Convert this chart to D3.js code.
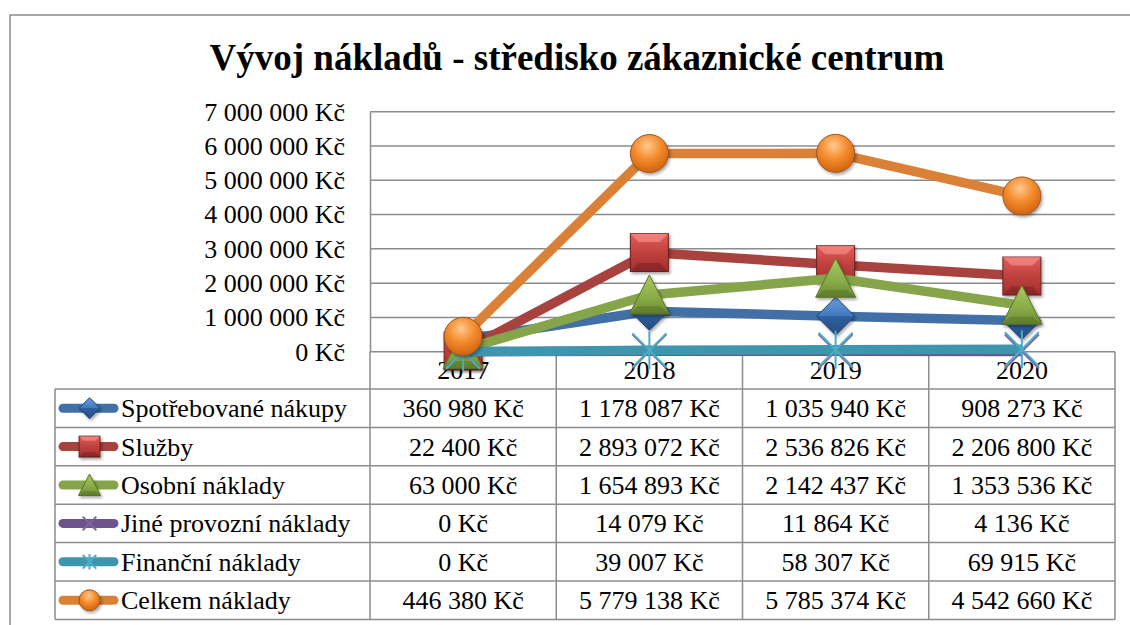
<!DOCTYPE html>
<html>
<head>
<meta charset="utf-8">
<script src="https://d3js.org/d3.v7.min.js"></script>
</head>
<body style="margin:0">
<script>
var width = 1130, height = 625;
var serif = "'Liberation Serif'";

// data
var categories = ["2017", "2018", "2019", "2020"];
var seriesNames = ["Spotřebované nákupy", "Služby", "Osobní náklady",
                   "Jiné provozní náklady", "Finanční náklady", "Celkem náklady"];
var spotrebovane = [360980, 1178087, 1035940, 908273];
var sluzby = [22400, 2893072, 2536826, 2206800];
var osobni = [63000, 1654893, 2142437, 1353536];
var jine = [0, 14079, 11864, 4136];
var financni = [0, 39007, 58307, 69915];
var celkem = [446380, 5779138, 5785374, 4542660];
var yTicks = [0, 1000000, 2000000, 3000000, 4000000, 5000000, 6000000, 7000000];

var seriesValues = [spotrebovane, sluzby, osobni, jine, financni, celkem];
var lineColors = ["#416FA6", "#A8423F", "#86A44A", "#6E548D", "#3D96AE", "#DA8137"];
var markerTypes = ["diamond", "square", "triangle", "x", "star", "circle"];

// Czech number format: space as thousands separator
var fmt = function(v) { return d3.format(",")(v).replace(/,/g, " ") + " Kč"; };

var svg = d3.select("body").append("svg").attr("width", width).attr("height", height)
    .style("font-family", serif);

// gradients + shadow
var defs = svg.append("defs");
function linGrad(id, stops) {
    var g = defs.append("linearGradient").attr("id", id)
        .attr("x1", 0).attr("y1", 0).attr("x2", 0).attr("y2", 1);
    stops.forEach(function(s) { g.append("stop").attr("offset", s[0]).attr("stop-color", s[1]); });
}
linGrad("gBlue", [[0, "#6A9EDF"], [0.5, "#4078BE"], [0.51, "#2F5F9E"], [1, "#244D82"]]);
linGrad("gRed", [[0, "#E25F5C"], [0.5, "#C0403D"], [1, "#A0302E"]]);
linGrad("gGreen", [[0, "#A9CA62"], [0.6, "#88AA47"], [1, "#6E8C34"]]);
var rg = defs.append("radialGradient").attr("id", "gOrange")
    .attr("cx", "45%").attr("cy", "30%").attr("r", "70%");
rg.append("stop").attr("offset", 0).attr("stop-color", "#FFC98F");
rg.append("stop").attr("offset", 0.5).attr("stop-color", "#F58C2E");
rg.append("stop").attr("offset", 1).attr("stop-color", "#D0640F");
var sh = defs.append("filter").attr("id", "shadow")
    .attr("x", "-30%").attr("y", "-30%").attr("width", "170%").attr("height", "170%");
sh.append("feDropShadow").attr("dx", 1.5).attr("dy", 2).attr("stdDeviation", 1.5)
    .attr("flood-color", "#000").attr("flood-opacity", 0.35);

// outer frame
svg.append("rect").attr("x", 10).attr("y", 15).attr("width", 1140).attr("height", 640)
    .attr("fill", "none").attr("stroke", "#8c8c8c").attr("stroke-width", 1.5);

// title
svg.append("text").attr("x", 577).attr("y", 70).attr("text-anchor", "middle")
    .style("font-family", serif).style("font-size", "37px").style("font-weight", "bold")
    .text("Vývoj nákladů - středisko zákaznické centrum");

var plotLeft = 370, plotRight = 1115, plotTop = 111.7, plotBottom = 351.7;
var x = d3.scaleBand().domain(categories).range([plotLeft, plotRight]);
var y = d3.scaleLinear().domain([0, 7000000]).range([plotBottom, plotTop]);
var cx = function(c) { return x(c) + x.bandwidth() / 2; };

var gridColor = "#8c8c8c";

// gridlines
svg.append("g").selectAll("line").data(yTicks).join("line")
    .attr("x1", plotLeft).attr("x2", plotRight)
    .attr("y1", function(d) { return y(d); }).attr("y2", function(d) { return y(d); })
    .attr("stroke", gridColor).attr("stroke-width", 1.5);

// y axis
var yAxis = svg.append("g").attr("transform", "translate(" + plotLeft + ",0)")
    .call(d3.axisLeft(y).tickValues(yTicks).tickSize(0).tickPadding(25).tickFormat(fmt));
yAxis.attr("font-family", serif).attr("font-size", 26);
yAxis.select(".domain").attr("stroke", gridColor).attr("stroke-width", 1.5);
yAxis.selectAll("text").style("font-size", "26px").style("font-family", serif).attr("fill", "#000");

// data table grid
var rowTop = 389, rowH = 38.4, tableLeft = 55;
var tableBottom = rowTop + rowH * seriesNames.length;
var tg = svg.append("g").attr("stroke", gridColor).attr("stroke-width", 1.5);
tg.append("line").attr("x1", plotLeft).attr("x2", plotLeft).attr("y1", plotBottom).attr("y2", tableBottom);
categories.forEach(function(c) {
    tg.append("line").attr("x1", x(c) + x.bandwidth()).attr("x2", x(c) + x.bandwidth())
        .attr("y1", plotBottom).attr("y2", tableBottom);
});
d3.range(seriesNames.length + 1).forEach(function(i) {
    tg.append("line").attr("x1", tableLeft).attr("x2", plotRight)
        .attr("y1", rowTop + i * rowH).attr("y2", rowTop + i * rowH);
});
tg.append("line").attr("x1", tableLeft).attr("x2", tableLeft).attr("y1", rowTop).attr("y2", tableBottom);

// category labels (header row)
svg.append("g").selectAll("text").data(categories).join("text")
    .attr("x", cx).attr("y", 379).attr("text-anchor", "middle")
    .style("font-family", serif).style("font-size", "26px").text(function(d) { return d; });

// table cells
seriesNames.forEach(function(name, i) {
    var mid = rowTop + rowH * i + rowH / 2;
    svg.append("text").attr("x", 121).attr("y", mid + 9)
        .style("font-family", serif).style("font-size", "26px").text(name);
    svg.append("g").selectAll("text").data(seriesValues[i]).join("text")
        .attr("x", function(d, j) { return cx(categories[j]); }).attr("y", mid + 9)
        .attr("text-anchor", "middle").style("font-family", serif).style("font-size", "26px")
        .text(function(d) { return fmt(d); });
});

// marker drawing (bevelled look like the office chart style)
function drawMarker(g, type, s) {
    var h = 19 * s;
    if (type === "diamond") {
        g.append("path").attr("d", "M0," + (-h) + "L" + h + ",0L0," + h + "L" + (-h) + ",0Z")
            .attr("fill", "url(#gBlue)").attr("stroke", "#1F4578").attr("stroke-width", 1)
            .attr("filter", "url(#shadow)");
    } else if (type === "square") {
        g.append("rect").attr("x", -h).attr("y", -h).attr("width", 2 * h).attr("height", 2 * h)
            .attr("fill", "url(#gRed)").attr("stroke", "#6B2120").attr("stroke-width", 1)
            .attr("filter", "url(#shadow)");
        var b = h * 0.55;
        // top and bottom bevel facets
        g.append("path").attr("d", "M" + (-h) + "," + (-h) + "L" + h + "," + (-h) + "L" + b + "," + (-b) + "L" + (-b) + "," + (-b) + "Z")
            .attr("fill", "#FF9a96").attr("opacity", 0.55);
        g.append("path").attr("d", "M" + (-h) + "," + h + "L" + h + "," + h + "L" + b + "," + b + "L" + (-b) + "," + b + "Z")
            .attr("fill", "#5E1816").attr("opacity", 0.35);
    } else if (type === "triangle") {
        g.append("path").attr("d", "M0," + (-h - 1 * s) + "L" + (h + 1 * s) + "," + h + "L" + (-h - 1 * s) + "," + h + "Z")
            .attr("fill", "url(#gGreen)").attr("stroke", "#5A7529").attr("stroke-width", 1)
            .attr("filter", "url(#shadow)");
        g.append("path").attr("d", "M" + (-h - 1 * s) + "," + h + "L" + (h + 1 * s) + "," + h + "L" + (h * 0.6) + "," + (h * 0.6) + "L" + (-h * 0.6) + "," + (h * 0.6) + "Z")
            .attr("fill", "#3F5A1A").attr("opacity", 0.3);
    } else if (type === "circle") {
        g.append("circle").attr("r", h)
            .attr("fill", "url(#gOrange)").attr("stroke", "#9A5522").attr("stroke-width", 1)
            .attr("filter", "url(#shadow)");
    } else if (type === "x" || type === "star") {
        var col = type === "x" ? "#8064A2" : "#4BACC6";
        var a = 17 * s;
        g.append("path").attr("d", "M" + (-a) + "," + (-a) + "L" + a + "," + a + "M" + (-a) + "," + a + "L" + a + "," + (-a))
            .attr("stroke", col).attr("stroke-width", 2).attr("fill", "none");
        if (type === "star") {
            g.append("path").attr("d", "M0," + (-h) + "L0," + h)
                .attr("stroke", col).attr("stroke-width", 2);
        }
    }
}

// series lines and markers
var line = d3.line()
    .x(function(d, j) { return cx(categories[j]); })
    .y(function(d) { return y(d); });

seriesValues.forEach(function(vals, i) {
    var g = svg.append("g");
    g.append("path").datum(vals).attr("d", line)
        .attr("fill", "none").attr("stroke", lineColors[i]).attr("stroke-width", 9.5)
        .attr("stroke-linejoin", "round");
    vals.forEach(function(v, j) {
        var m = g.append("g").attr("transform", "translate(" + cx(categories[j]) + "," + y(v) + ")");
        drawMarker(m, markerTypes[i], 1);
    });
});

// legend keys in the table
seriesNames.forEach(function(name, i) {
    var mid = rowTop + rowH * i + rowH / 2;
    var g = svg.append("g");
    g.append("line").attr("x1", 63).attr("x2", 114).attr("y1", mid).attr("y2", mid)
        .attr("stroke", lineColors[i]).attr("stroke-width", 9).attr("stroke-linecap", "round");
    var m = g.append("g").attr("transform", "translate(89.5," + mid + ")");
    drawMarker(m, markerTypes[i], markerTypes[i] === "x" || markerTypes[i] === "star" ? 0.4 : 0.55);
});
</script>
</body>
</html>
